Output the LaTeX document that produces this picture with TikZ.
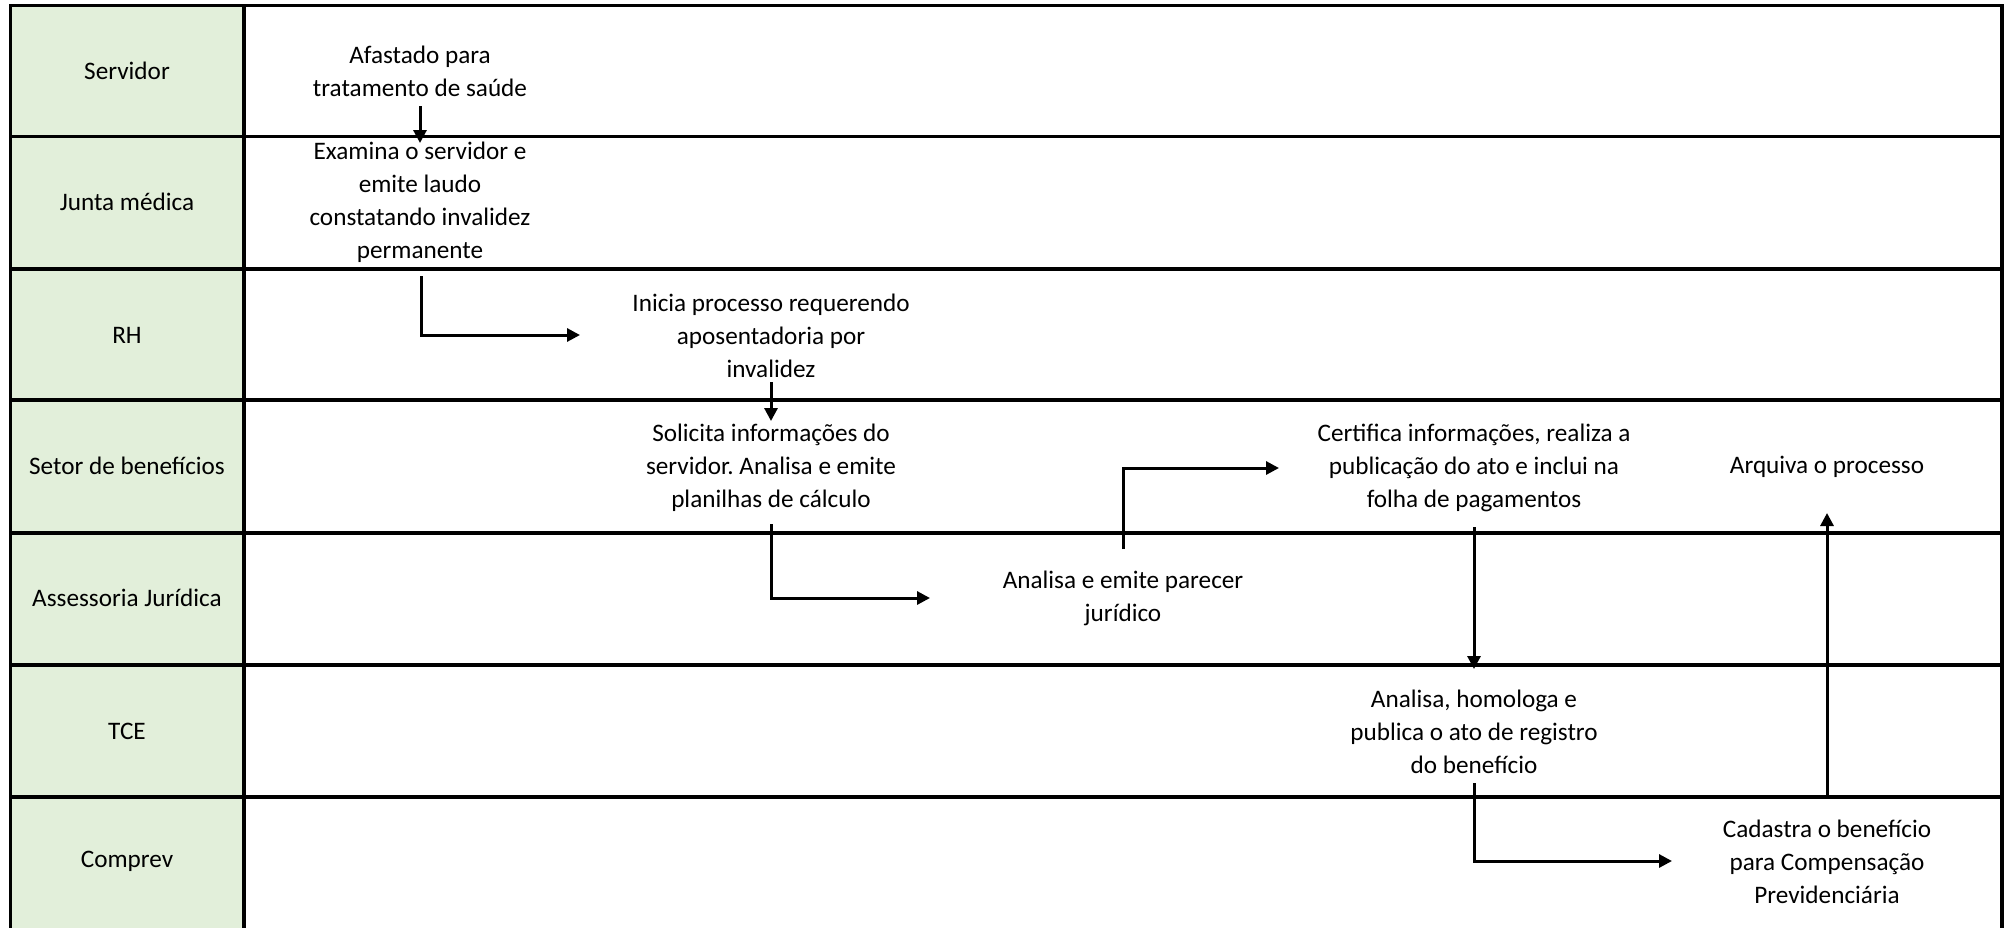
\documentclass[tikz,border=0pt]{standalone}
\usepackage{fontspec}
\setmainfont{Carlito}
\usetikzlibrary{arrows.meta,calc}
\definecolor{lanegreen}{HTML}{E2EFDA}
\frenchspacing
\begin{document}
\begin{tikzpicture}[x=0.5pt,y=-0.5pt,
  grid/.style={line width=1.7pt,black},
  task/.style={align=center,inner sep=0pt,font=\fontsize{12.6}{16.5}\selectfont},
  lanelabel/.style={align=center,inner sep=0pt,font=\fontsize{12.6}{16.5}\selectfont},
  arr/.style={line width=1.5pt,-{Triangle[length=6.5pt,width=6.5pt]}}]
\useasboundingbox (0,0) rectangle (2012,927);
% left column fill
\fill[lanegreen] (10.5,5.5) rectangle (244,935);
% frame and lane lines
\draw[grid] (10.5,935) -- (10.5,5.5) -- (2002,5.5) -- (2002,935);
\draw[grid] (244,5.5) -- (244,935);
\foreach \yy in {136.5,269,400,533,665,797}
  \draw[grid] (10.5,\yy) -- (2002,\yy);
% lane labels
\node[lanelabel] (l1) at (127,71)  {Servidor};
\node[lanelabel] (l2) at (127,202) {Junta médica};
\node[lanelabel] (l3) at (127,335) {RH};
\node[lanelabel] (l4) at (127,466) {Setor de benefícios};
\node[lanelabel] (l5) at (127,598) {Assessoria Jurídica};
\node[lanelabel] (l6) at (127,731) {TCE};
\node[lanelabel] (l7) at (127,861) {Comprev};
% tasks
\node[task] (t1) at (420,71.5)   {Afastado para\\tratamento de saúde};
\node[task] (t2) at (420,202.5)  {Examina o servidor e\\emite laudo\\constatando invalidez\\permanente};
\node[task] (t3) at (771,335.5)  {Inicia processo requerendo\\aposentadoria por\\invalidez};
\node[task] (t4) at (771,467.5)  {Solicita informações do\\servidor. Analisa e emite\\planilhas de cálculo};
\node[task] (t5) at (1123,598.5) {Analisa e emite parecer\\jurídico};
\node[task] (t6) at (1474,467.5) {Certifica informações, realiza a\\publicação do ato e inclui na\\folha de pagamentos};
\node[task] (t7) at (1827,466.5) {Arquiva o processo};
\node[task] (t8) at (1474,731.5) {Analisa, homologa e\\publica o ato de registro\\do benefício};
\node[task] (t9) at (1827,861.5) {Cadastra o benefício\\para Compensação\\Previdenciária};
% connectors
\draw[arr] ($(t1)+(0,34.5)$) -- ($(t2)+(0,-59.5)$);
\draw[arr] ($(t2)+(1,73.5)$) |- ($(t3)+(-191,-0.5)$);
\draw[arr] ($(t3)+(0,46.5)$) -- ($(t4)+(0,-46.5)$);
\draw[arr] ($(t4)+(0,56.5)$) |- ($(t5)+(-193,-0.5)$);
\draw[arr] ($(t5)+(0,-49.5)$) |- ($(t6)+(-195,0.5)$);
\draw[arr] ($(t6)+(0,59.5)$) -- ($(t8)+(0,-62.5)$);
\draw[arr] ($(t8)+(0,51.5)$) |- ($(t9)+(-155,-0.5)$);
\draw[arr] ($(t9)+(0,-64.5)$) -- ($(t7)+(0,46.5)$);
\end{tikzpicture}
\end{document}
